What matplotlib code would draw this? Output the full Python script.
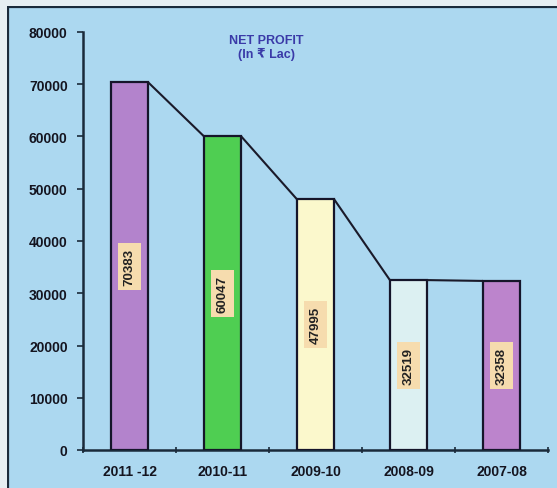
import matplotlib
matplotlib.use("Agg")
import matplotlib.pyplot as plt
from matplotlib.patches import Rectangle
import numpy as np

years = ["2011 -12", "2010-11", "2009-10", "2008-09", "2007-08"]
net_profit = [70383, 60047, 47995, 32519, 32358]
bar_colors = ["#b383cc", "#4fce52", "#fbf8cc", "#dcf0f2", "#bc84cc"]
y_ticks = [0, 10000, 20000, 30000, 40000, 50000, 60000, 70000, 80000]

bg = "#acd8f0"
fonts = ["Liberation Sans", "DejaVu Sans"]
fig = plt.figure(figsize=(5.57, 4.89), dpi=100)
fig.patch.set_facecolor(bg)

# outer panel frame (left and top edges visible)
fig.add_artist(Rectangle((8 / 557, -0.05), 1.2, (489 - 8) / 489 + 0.05,
                         transform=fig.transFigure, fill=False,
                         edgecolor="#1a2a3a", linewidth=1.6))
# light strip outside the frame
fig.add_artist(Rectangle((0, (489 - 7) / 489), 1, 7 / 489,
                         transform=fig.transFigure, facecolor="#e6eef2",
                         edgecolor="none"))
fig.add_artist(Rectangle((0, 0), 7 / 557, 1,
                         transform=fig.transFigure, facecolor="#e6eef2",
                         edgecolor="none"))

ax = fig.add_axes([83 / 557, 38 / 489, (548 - 83) / 557, (451 - 33) / 489])
ax.set_facecolor(bg)

x = np.arange(len(years))
width = 0.40
ax.bar(x, net_profit, width=width, color=bar_colors, edgecolor="#15152a",
       linewidth=1.6, zorder=3)

# connector line: right top corner of each bar to left top corner of the next
for i in range(len(years) - 1):
    ax.plot([x[i] + width / 2, x[i + 1] - width / 2],
            [net_profit[i], net_profit[i + 1]],
            color="#1a1a2a", linewidth=1.5, zorder=4, solid_capstyle="butt")

for xi, v in zip(x, net_profit):
    ax.text(xi, v / 2, f"{v}", rotation=90, ha="center", va="center",
            fontsize=9.5, fontweight="bold", color="#222222",
            family=fonts, zorder=5,
            bbox=dict(boxstyle="square,pad=0.38", facecolor="#f6dcae",
                      edgecolor="none"))

ax.set_xlim(-0.5, len(years) - 0.5)
ax.set_ylim(0, 80000)
ax.set_yticks(y_ticks)
ax.set_yticklabels([str(t) for t in y_ticks])
ax.set_xticks(np.arange(-0.5, len(years)), minor=False)
ax.set_xticklabels([])
ax.set_xticks(x, minor=True)
ax.set_xticklabels(years, minor=True)
ax.tick_params(axis="x", which="minor", length=0, pad=10)
ax.tick_params(axis="x", which="major", length=4, direction="inout",
               width=1.2, color="#1a2a3a")
ax.tick_params(axis="y", length=4, direction="out", width=1.2,
               color="#1a2a3a", pad=7)
for lbl in ax.get_yticklabels() + ax.get_xticklabels(minor=True):
    lbl.set_fontsize(10)
    lbl.set_fontweight("bold")
    lbl.set_color("#14141f")
    lbl.set_family(fonts)

for s in ["top", "right"]:
    ax.spines[s].set_visible(False)
for s in ["left", "bottom"]:
    ax.spines[s].set_color("#1a2a3a")
    ax.spines[s].set_linewidth(1.8)

fig.text(266 / 557, 1 - 48 / 489, "NET PROFIT\n(In \u20b9 Lac)", ha="center",
         va="center", fontsize=9, fontweight="bold", color="#3a3aa8",
         family=fonts, linespacing=1.0)

fig.savefig("out.png", dpi=100, facecolor=fig.get_facecolor())
